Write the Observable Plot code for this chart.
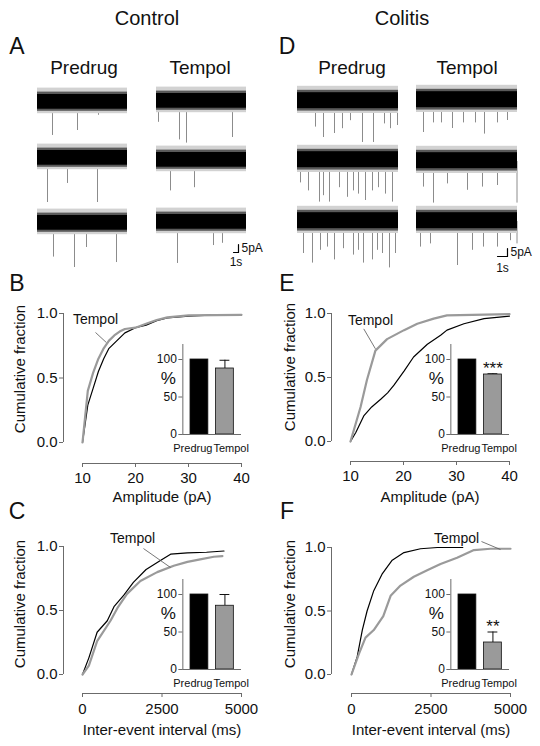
<!DOCTYPE html>
<html><head><meta charset="utf-8">
<script src="https://cdn.jsdelivr.net/npm/d3@7"></script>
<script src="https://cdn.jsdelivr.net/npm/@observablehq/plot@0.6"></script>
<style>
body{margin:0;background:#fff;}
#fig{position:relative;width:540px;height:746px;overflow:hidden;font-family:"Liberation Sans",Arial,sans-serif;color:#111;background:#fff;}
#fig svg{position:absolute;overflow:visible;background:transparent;}
.lbl{position:absolute;white-space:nowrap;line-height:1;transform:translate(-50%,-50%);}
</style></head><body><div id="fig"></div><script>
// ---------- data ----------
const groups = ["Control", "Colitis"];
const conditions = ["Predrug", "Tempol"];
const panelLetters = ["A", "B", "C", "D", "E", "F"];

// spontaneous currents: events per trace row, [time (s), amplitude (pA)]
const ctrlPredrugEvents = [
  [[3.0,20.6],[8.0,17.5],[12.2,8],[14.0,6]],
  [[2.0,27.5],[6.0,15.6],[12.0,27.5]],
  [[3.2,21],[7.4,27.5],[9.8,15],[15.8,24.4]]
];
const ctrlTempolEvents = [
  [[0.4,13],[4.6,24],[6.0,26],[15.2,22.5]],
  [[2.8,19],[7.6,17]],
  [[4.2,25.6],[11.4,14.4],[13.2,13]]
];
const colPredrugEvents = [
  [[1.8,16],[2.6,22.5],[3.7,20],[4.5,17],[5.3,12],[6.5,25.6],[7.6,25.6],[8.7,14],[9.3,17],[10.0,15]],
  [[0.3,14],[1.1,19],[2.2,26],[2.6,22],[3.2,26],[4.2,17],[5.0,23],[5.6,19],[6.1,21],[6.8,25],[7.5,19],[8.1,17],[8.8,21],[9.5,26]],
  [[0.6,20],[1.5,26],[2.3,18],[3.0,16],[3.7,24],[4.6,17],[5.6,21],[6.1,18],[6.6,26],[7.5,24],[8.0,18],[8.5,20],[9.2,29],[9.8,20]]
];
const colTempolEvents = [
  [[0.7,20],[1.7,14],[2.5,14],[3.6,17.5],[4.7,14],[5.9,14],[6.8,21],[8.1,14],[9.1,12.5]],
  [[0.7,16],[1.7,26],[3.1,14],[5.1,18],[6.6,16],[8.1,15],[10.05,26]],
  [[0.4,16],[1.4,14],[4.1,27.5],[5.6,18],[6.7,16],[8.1,16],[9.4,12],[10.05,14]]
];
// noise envelope bands (pA): [low, high] for haze, fringe, core
const ctrlNoise = {haze: [-7, 9], fringe: [-5.5, 6.5], core: [-4.2, 5]};
const colNoise  = {haze: [-7.5, 9.5], fringe: [-6, 7], core: [-4.5, 5.5]};
const ctrlTraceSeconds = 18, colTraceSeconds = 10.1;
const scaleBarTime = 1, scaleBarAmp = 5;
const scaleBarTimeLabel = "1s", scaleBarAmpLabel = "5pA";

// cumulative distributions [x, fraction]
const ctrlAmpPredrug = [[10,0],[11,0.29],[12,0.42],[13,0.55],[14,0.65],[15,0.73],[16.5,0.79],[18,0.85],[20,0.89],[22,0.91],[24,0.945],[26,0.965],[30,0.98],[35,0.99],[40,0.99]];
const ctrlAmpTempol  = [[10,0],[11,0.4],[12,0.54],[13,0.65],[14,0.73],[15,0.79],[16,0.83],[17,0.86],[18,0.88],[20,0.89],[22,0.92],[24,0.95],[26,0.97],[30,0.985],[40,0.99]];
const colAmpPredrug  = [[10,0],[11,0.07],[12.5,0.2],[14,0.27],[15.7,0.33],[17,0.38],[18.2,0.44],[20.1,0.55],[21.9,0.66],[24.5,0.76],[27,0.83],[28.2,0.87],[31.4,0.92],[35.2,0.96],[40,0.98]];
const colAmpTempol   = [[10,0],[11.9,0.27],[13.1,0.48],[14.7,0.71],[16.9,0.80],[20.1,0.87],[22.6,0.92],[25.7,0.96],[28.2,0.985],[33,0.99],[40,0.995]];
const ctrlIeiPredrug = [[0,0],[200,0.13],[460,0.33],[780,0.42],[990,0.53],[1300,0.62],[1600,0.72],[2000,0.82],[2450,0.89],[2770,0.94],[3300,0.95],[3900,0.955],[4450,0.965]];
const ctrlIeiTempol  = [[0,0],[200,0.07],[460,0.26],[880,0.42],[1100,0.52],[1400,0.63],[1820,0.73],[2350,0.80],[2870,0.85],[3300,0.88],[3700,0.9],[4130,0.92],[4400,0.925]];
const colIeiPredrug  = [[0,0],[180,0.14],[340,0.35],[490,0.50],[700,0.66],[960,0.79],[1280,0.90],[1650,0.96],[2170,0.99],[2700,1.0],[3500,1.0]];
const colIeiTempol   = [[0,0],[230,0.16],[440,0.29],[700,0.35],[1000,0.46],[1230,0.62],[1540,0.70],[1960,0.77],[2380,0.82],[2800,0.87],[3320,0.92],[3850,0.98],[4370,0.99],[5000,0.99]];
const ampTicks = [10,20,30,40];
const ieiTicks = [0,2500,5000];
const fracTicks = [0,0.5,1];
const ampLabel = "Amplitude (pA)";
const ieiLabel = "Inter-event interval (ms)";
const fracLabel = "Cumulative fraction";
const curveLabel = "Tempol";

// inset bar charts (% of predrug)
const ctrlAmpPct = [100, 88],  ctrlAmpHi = [null, 99],  ctrlAmpSig = ["", ""];
const colAmpPct  = [100, 80],  colAmpHi  = [null, 81],  colAmpSig  = ["", "***"];
const ctrlIeiPct = [100, 85],  ctrlIeiHi = [null, 100], ctrlIeiSig = ["", ""];
const colIeiPct  = [100, 36],  colIeiHi  = [null, 50],  colIeiSig  = ["", "**"];
const pctTicks = [0,50,100];

// ---------- drawing ----------
const FONT = '"Liberation Sans", Arial, sans-serif';
const AXC = "#6b6b6b", TXT = "#111";
const baseStyle = {fontFamily: FONT, background: "transparent", overflow: "visible"};
const fig = document.getElementById("fig");
function place(svg, left, top){ svg.style.left = left + "px"; svg.style.top = top + "px"; fig.appendChild(svg); }
function label(text, x, y, size){
  const d = document.createElement("div"); d.className = "lbl"; d.textContent = text;
  d.style.left = x + "px"; d.style.top = y + "px"; d.style.fontSize = size + "px"; fig.appendChild(d);
}

label(groups[0], 147, 18, 20); label(groups[1], 402, 18, 20);
label(panelLetters[0], 17, 46, 23); label(panelLetters[3], 287, 46, 23);
label(panelLetters[1], 17, 283, 23); label(panelLetters[4], 287, 283, 23);
label(panelLetters[2], 17, 511, 23); label(panelLetters[5], 287, 511, 23);
label(conditions[0], 84, 67, 19); label(conditions[1], 200, 67, 19);
label(conditions[0], 352, 67, 19); label(conditions[1], 467, 67, 19);

function tracePlot(events, left, cy, T, pxs, pxa, noise){
  const w = T * pxs, up = 20, h = 72;
  const svg = Plot.plot({
    width: w, height: h, margin: 0, axis: null,
    x: {domain: [0, T], range: [0, w]},
    y: {domain: [-(h - up) / pxa, up / pxa], range: [h, 0]},
    style: baseStyle,
    marks: [
      Plot.ruleX(events, {x: d => d[0], y1: 0, y2: d => -d[1], stroke: "#8c8c8c", strokeWidth: 1}),
      Plot.rect([noise], {x1: 0, x2: T, y1: d => d.haze[0], y2: d => d.haze[1], fill: "#d2d2d2"}),
      Plot.rect([noise], {x1: 0, x2: T, y1: d => d.fringe[0], y2: d => d.fringe[1], fill: "#5a5a5a"}),
      Plot.rect([noise], {x1: 0, x2: T, y1: d => d.core[0], y2: d => d.core[1], fill: "#000"})
    ]
  });
  place(svg, left, cy - up);
}
const PXA = 1.6;
[[ctrlPredrugEvents, 37, [102,158,223]], [ctrlTempolEvents, 156, [101,160,222]]].forEach(([ev, left, cys]) =>
  ev.forEach((e, i) => tracePlot(e, left, cys[i], ctrlTraceSeconds, 5, PXA, ctrlNoise)));
[[colPredrugEvents, 297, [101,160,221]], [colTempolEvents, 416, [100,161,221]]].forEach(([ev, left, cys]) =>
  ev.forEach((e, i) => tracePlot(e, left, cys[i], colTraceSeconds, 10, PXA, colNoise)));

function scaleBar(left, top, pxs, pxa, x0, y0, tdy){
  const svg = Plot.plot({
    width: 60, height: 40, margin: 0, axis: null,
    x: {domain: [0, scaleBarTime], range: [x0, x0 + scaleBarTime * pxs]},
    y: {domain: [0, scaleBarAmp], range: [y0, y0 - scaleBarAmp * pxa]},
    style: baseStyle,
    marks: [
      Plot.line([[0,0],[scaleBarTime,0],[scaleBarTime,scaleBarAmp]], {x: d => d[0], y: d => d[1], stroke: "#000", strokeWidth: 1.2}),
      Plot.text([scaleBarAmpLabel], {x: scaleBarTime, y: scaleBarAmp / 2, dx: 3, textAnchor: "start", fontSize: 12, fill: TXT}),
      Plot.text([scaleBarTimeLabel], {x: scaleBarTime / 2, y: 0, dy: tdy, fontSize: 12, fill: TXT})
    ]
  });
  place(svg, left, top);
}
scaleBar(225, 235, 5, PXA, 8, 17, 10);
scaleBar(489, 240, 10, PXA, 8, 16, 12);

function cdf(p){
  const [xa, xb] = p.xDomain;
  const svg = Plot.plot({
    width: p.w, height: p.h,
    marginLeft: p.axisX, marginBottom: p.h - p.axisY, marginTop: 5, marginRight: 5,
    x: {type: "linear", domain: p.xDomain, range: p.xRange},
    y: {type: "linear", domain: [0, 1], range: p.yRange},
    style: baseStyle,
    marks: [
      Plot.ruleY([0], {x1: xa, x2: xb, dy: p.axisY - p.yRange[0], stroke: AXC}),
      Plot.ruleX([xa], {y1: 0, y2: 1, dx: p.axisX - p.xRange[0], stroke: AXC}),
      Plot.axisX({ticks: p.xTicks, tickFormat: d => String(d), tickSize: 4, tickPadding: p.tickPad, fontSize: 15, stroke: AXC, fill: TXT, label: null}),
      Plot.axisY({ticks: fracTicks, tickFormat: d3.format(".1f"), tickSize: 4, tickPadding: 2, fontSize: 15, stroke: AXC, fill: TXT, label: null}),
      Plot.line(p.predrug, {x: d => d[0], y: d => d[1], stroke: "#000", strokeWidth: 1.2}),
      Plot.line(p.tempol, {x: d => d[0], y: d => d[1], stroke: "#9a9a9a", strokeWidth: 2.2}),
      Plot.link([p.ann], {x1: d => d.x1, y1: d => d.y1, x2: d => d.x2, y2: d => d.y2, stroke: "#555", strokeWidth: 0.8}),
      Plot.text([p.ann], {x: d => d.tx, y: d => d.ty, text: () => curveLabel, fontSize: 14, fill: TXT}),
      Plot.text([p.xLabel], {x: p.xLabX, y: 0, dy: p.xLabDy, fontSize: 15, fill: TXT}),
      Plot.text([fracLabel], {x: xa, y: 0.5, dx: p.yLabDx, dy: p.yLabDy, rotate: -90, fontSize: 15, fill: TXT})
    ]
  });
  place(svg, p.left, p.top);
}
cdf({left: 0, top: 270, w: 270, h: 240, xDomain: [10,40], xRange: [82,241], yRange: [172,43], axisX: 63, axisY: 193,
  xTicks: ampTicks, tickPad: 4.5, xLabel: ampLabel, xLabX: 25, xLabDy: 55, yLabDx: -62, yLabDy: -9,
  predrug: ctrlAmpPredrug, tempol: ctrlAmpTempol, ann: {tx: 12.45, ty: 0.95, x1: 12.45, y1: 0.853, x2: 14.5, y2: 0.775}});
cdf({left: 270, top: 270, w: 270, h: 240, xDomain: [10,40], xRange: [80,239], yRange: [171,43], axisX: 61, axisY: 191,
  xTicks: ampTicks, tickPad: 4.5, xLabel: ampLabel, xLabX: 25, xLabDy: 56, yLabDx: -60.5, yLabDy: -10.5,
  predrug: colAmpPredrug, tempol: colAmpTempol, ann: {tx: 13.77, ty: 0.945, x1: 12.5, y1: 0.88, x2: 14.7, y2: 0.724}});
cdf({left: 0, top: 510, w: 270, h: 236, xDomain: [0,5000], xRange: [82,241], yRange: [164,36], axisX: 63, axisY: 183,
  xTicks: ieiTicks, tickPad: 5.5, xLabel: ieiLabel, xLabX: 2500, xLabDy: 56, yLabDx: -62, yLabDy: -6.5,
  predrug: ctrlIeiPredrug, tempol: ctrlIeiTempol, ann: {tx: 1572, ty: 1.0625, x1: 1918, y1: 0.984, x2: 2767, y2: 0.836}});
cdf({left: 270, top: 510, w: 270, h: 236, xDomain: [0,5000], xRange: [81,240], yRange: [164,37], axisX: 61, axisY: 183,
  xTicks: ieiTicks, tickPad: 5.5, xLabel: ieiLabel, xLabX: 2500, xLabDy: 56, yLabDx: -61.5, yLabDy: -7,
  predrug: colIeiPredrug, tempol: colIeiTempol, ann: {tx: 3302, ty: 1.071, x1: 4088, y1: 1.047, x2: 4686, y2: 0.984}});

function insetPlot(left, top, pct, hi, sig){
  const rows = conditions.map((c, i) => ({cat: c, v: pct[i], hi: hi[i], sig: sig[i]}));
  const errRows = rows.filter(d => d.hi != null);
  const svg = Plot.plot({
    width: 120, height: 130, marginLeft: 42.35, marginRight: 19, marginTop: 14, marginBottom: 26,
    x: {type: "band", domain: conditions, range: [42.35, 101], paddingInner: 0.3, paddingOuter: 0.3, align: 0.5, round: false, axis: null},
    y: {type: "linear", domain: [0, 120], range: [104, 14]},
    color: {domain: conditions, range: ["#000", "#9a9a9a"]},
    style: baseStyle,
    marks: [
      Plot.ruleX(errRows, {x: "cat", y1: "v", y2: "hi", stroke: "#111"}),
      Plot.tickY(errRows, {x: "cat", y: "hi", stroke: "#111", insetLeft: 4, insetRight: 4}),
      Plot.barY(rows, {x: "cat", y: "v", fill: "cat", stroke: "#111", strokeWidth: 0.8}),
      Plot.frame({anchor: "left", stroke: AXC}),
      Plot.ruleY([0], {stroke: AXC}),
      Plot.axisY({ticks: pctTicks, tickSize: 4, tickPadding: 2, fontSize: 12, stroke: AXC, fill: TXT, label: null}),
      Plot.text(rows.filter(d => d.sig), {x: "cat", y: "hi", text: "sig", dy: -5, fontSize: 17, fill: TXT}),
      Plot.text([conditions[0]], {x: d => d, y: 0, dy: 14, dx: 13, textAnchor: "end", fontSize: 11, fill: TXT}),
      Plot.text([conditions[1]], {x: d => d, y: 0, dy: 14, dx: -11.5, textAnchor: "start", fontSize: 11, fill: TXT}),
      Plot.text(["%"], {frameAnchor: "left", y: 75, dx: -22, fontSize: 17, fill: TXT})
    ]
  });
  place(svg, left, top);
}
insetPlot(140, 330, ctrlAmpPct, ctrlAmpHi, ctrlAmpSig);
insetPlot(408, 330, colAmpPct, colAmpHi, colAmpSig);
insetPlot(140, 565, ctrlIeiPct, ctrlIeiHi, ctrlIeiSig);
insetPlot(408, 565, colIeiPct, colIeiHi, colIeiSig);
</script></body></html>
